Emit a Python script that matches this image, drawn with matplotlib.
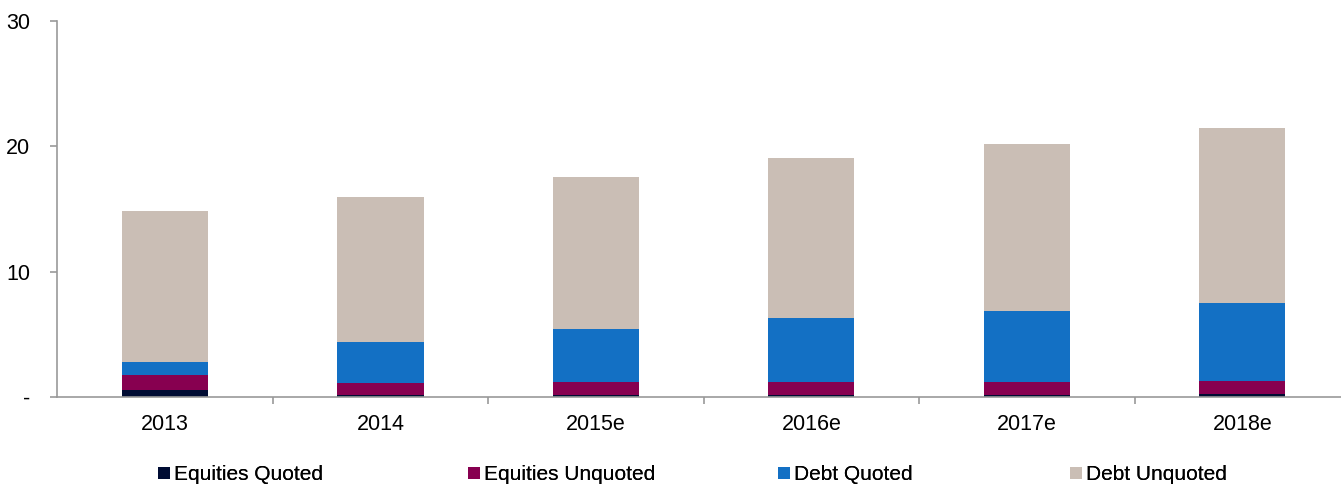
import matplotlib.pyplot as plt
import numpy as np

plt.rcParams['font.family'] = ['Liberation Sans', 'DejaVu Sans']

years = ['2013', '2014', '2015e', '2016e', '2017e', '2018e']
equities_quoted = [0.55, 0.13, 0.15, 0.15, 0.15, 0.2]
equities_unquoted = [1.18, 1.0, 1.05, 1.07, 1.07, 1.1]
debt_quoted = [1.07, 3.25, 4.23, 5.08, 5.64, 6.2]
debt_unquoted = [12.05, 11.57, 12.13, 12.77, 13.33, 13.97]

series = [
    ('Equities Quoted', equities_quoted, '#000C33'),
    ('Equities Unquoted', equities_unquoted, '#870050'),
    ('Debt Quoted', debt_quoted, '#1370C4'),
    ('Debt Unquoted', debt_unquoted, '#CABEB5'),
]

fig = plt.figure(figsize=(13.41, 4.84), dpi=100)
ax = fig.add_axes([0.0427, 0.1798, 0.964, 0.7768])

x = np.arange(len(years))
bottom = np.zeros(len(years))
handles = []
for name, vals, col in series:
    b = ax.bar(x, vals, 0.4, bottom=bottom, color=col, label=name)
    handles.append(b)
    bottom += np.array(vals)

ax.set_xlim(-0.5, len(years) - 0.5)
ax.set_ylim(0, 30)
ax.set_yticks([0, 10, 20, 30])
ax.set_yticklabels(['-', '10', '20', '30'], fontsize=15.5)

ax.set_xticks(x)
ax.set_xticklabels(years, fontsize=15.5)
ax.tick_params(axis='x', length=0, pad=12)
ax.set_xticks(x[:-1] + 0.5, minor=True)
ax.tick_params(axis='x', which='minor', length=5, color='#999999', width=1.2)
ax.tick_params(axis='y', length=5, color='#999999', width=1.2, pad=14.5)

for s in ['top', 'right']:
    ax.spines[s].set_visible(False)
for s in ['left', 'bottom']:
    ax.spines[s].set_color('#999999')
    ax.spines[s].set_linewidth(1.2)

# legend entries placed individually like the original layout
leg_x = [0.1180, 0.3493, 0.5805, 0.7980]
for h, lx in zip(handles, leg_x):
    lg = fig.legend(handles=[h], loc='center left', bbox_to_anchor=(lx, 0.019),
                    frameon=False, fontsize=15, handlelength=0.55,
                    handleheight=0.55, handletextpad=0.2, borderpad=0,
                    borderaxespad=0)
    fig.add_artist(lg)

fig.savefig('out.png', dpi=100)
